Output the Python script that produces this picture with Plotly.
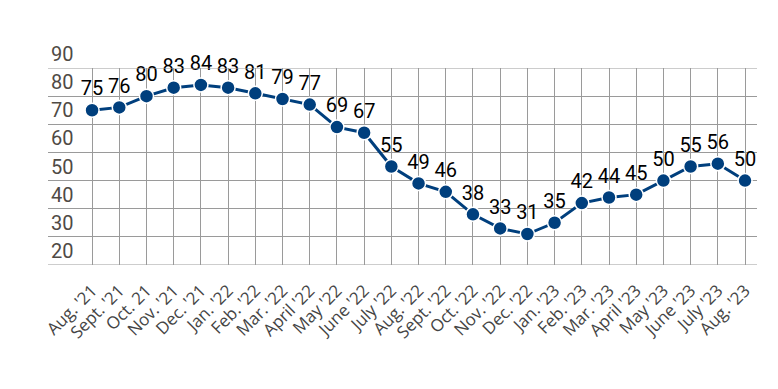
import plotly.graph_objects as go

months = ["Aug. '21", "Sept. '21", "Oct. 21", "Nov. '21", "Dec. '21", "Jan. '22", "Feb. '22",
          "Mar. '22", "April '22", "May '22", "June '22", "July '22", "Aug. '22", "Sept. '22",
          "Oct. '22", "Nov. '22", "Dec. '22", "Jan. '23", "Feb. '23", "Mar. '23", "April '23",
          "May '23", "June '23", "July '23", "Aug. '23"]
values = [75, 76, 80, 83, 84, 83, 81, 79, 77, 69, 67, 55, 49, 46, 38, 33, 31, 35, 42, 44, 45, 50, 55, 56, 50]
y_ticks = [20, 30, 40, 50, 60, 70, 80, 90]

navy = "#003f7d"
grid = "#9a9a9a"

fig = go.Figure()
fig.add_trace(go.Scatter(
    x=months, y=values, mode="lines+markers+text",
    line=dict(color=navy, width=3),
    marker=dict(color=navy, size=14, line=dict(color="white", width=1.5)),
    text=[str(v) for v in values], textposition="top center",
    textfont=dict(family="Roboto", size=20, color="#000000"),
    cliponaxis=False, hoverinfo="skip",
))

fig.update_layout(
    width=770, height=381,
    margin=dict(l=40, r=21, t=60, b=124, autoexpand=False),
    paper_bgcolor="white", plot_bgcolor="white",
    showlegend=False,
    font=dict(family="Roboto"),
)
fig.update_xaxes(
    type="category", range=[-1.62, 24.44], automargin=False,
    showgrid=True, gridcolor=grid, gridwidth=1,
    tickangle=-45, tickfont=dict(family="Open Sans", size=17, color="#444444"),
    ticks="outside", ticklen=8, tickcolor="rgba(0,0,0,0)",
    showline=False, zeroline=False,
)
fig.update_yaxes(
    range=[20, 90], tickvals=y_ticks, automargin=False,
    showgrid=True, gridcolor=grid, gridwidth=1,
    ticklabelposition="inside top", ticklabeloverflow="allow",
    tickfont=dict(family="Roboto", size=20, color="#4f4a45"),
    ticks="", showline=False, zeroline=False,
)
fig.add_shape(type="line", xref="paper", yref="y", x0=0, x1=1, y0=20, y1=20,
              line=dict(color=grid, width=1))
fig.add_shape(type="line", xref="paper", yref="y", x0=0, x1=1, y0=90, y1=90,
              line=dict(color=grid, width=1))

fig.write_html("out.html")
